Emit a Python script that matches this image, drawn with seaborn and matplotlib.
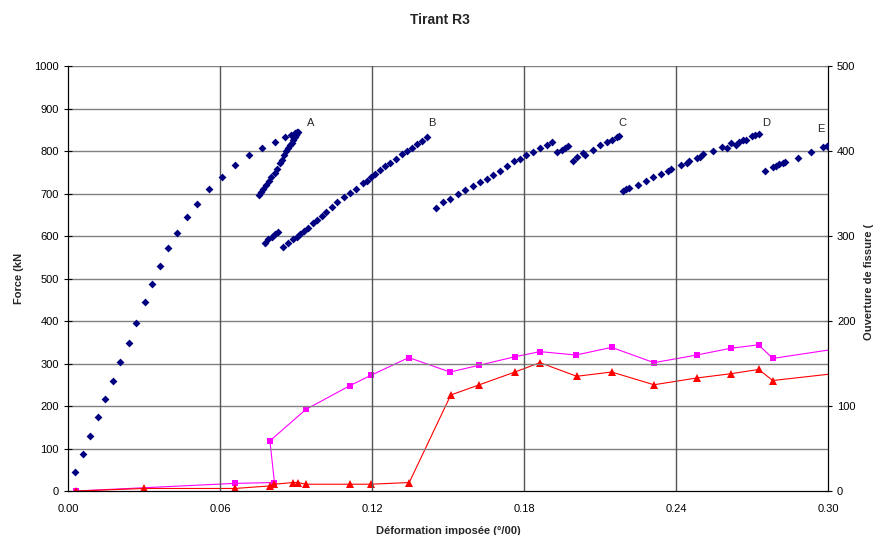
import numpy as np
import pandas as pd
import matplotlib
matplotlib.use('Agg')
import matplotlib.pyplot as plt
import seaborn as sns

# --- Force (kN) vs strain: blue diamonds (loading curve + loops A..E) ---
blue_strain = [
    # initial loading
    0.0028, 0.0058, 0.0088, 0.0118, 0.0147, 0.0176, 0.0207, 0.0240, 0.0270, 0.0303,
    0.0333, 0.0364, 0.0395, 0.0432, 0.0469, 0.0508, 0.0558, 0.0609, 0.0659, 0.0714,
    0.0767, 0.0817, 0.0858, 0.0880, 0.0895, 0.0904,
    # loop A
    0.0753, 0.0762, 0.0771, 0.0782, 0.0792, 0.0803, 0.0816, 0.0826, 0.0837, 0.0846,
    0.0854, 0.0862, 0.0870, 0.0876, 0.0883, 0.0889, 0.0895, 0.0900, 0.0904, 0.0908,
    # loop B
    0.0778, 0.0791, 0.0804, 0.0817, 0.0830,
    0.0850, 0.0870, 0.0887, 0.0903, 0.0916, 0.0932, 0.0948, 0.0966, 0.0982, 0.1001,
    0.1018, 0.1041, 0.1063, 0.1089, 0.1113, 0.1137, 0.1163, 0.1179, 0.1195, 0.1212,
    0.1232, 0.1251, 0.1271, 0.1295, 0.1317, 0.1337, 0.1357, 0.1376, 0.1396, 0.1416,
    # loop C
    0.1453, 0.1481, 0.1508, 0.1541, 0.1567, 0.1600, 0.1626, 0.1653, 0.1679, 0.1705,
    0.1734, 0.1760, 0.1784, 0.1808, 0.1837, 0.1863, 0.1889, 0.1909,
    0.1929, 0.1949, 0.1962, 0.1975,
    0.1995, 0.2008, 0.2034, 0.2041, 0.2071, 0.2100, 0.2126, 0.2146, 0.2166, 0.2176,
    # loop D
    0.2189, 0.2203, 0.2216, 0.2251, 0.2282, 0.2310, 0.2340, 0.2370, 0.2379, 0.2418,
    0.2445, 0.2453, 0.2484, 0.2495, 0.2508, 0.2547, 0.2580, 0.2602, 0.2616, 0.2637,
    0.2650, 0.2663, 0.2676, 0.2699, 0.2712, 0.2729,
    # loop E
    0.2751, 0.2782, 0.2795, 0.2808, 0.2821, 0.2832, 0.2883, 0.2933, 0.2979, 0.2995,
]
blue_force = [
    44, 86, 129, 174, 216, 259, 303, 349, 396, 444,
    488, 529, 572, 608, 644, 676, 710, 740, 766, 791,
    808, 822, 834, 838, 842, 845,
    697, 704, 711, 719, 730, 740, 749, 758, 771, 780,
    790, 799, 807, 813, 820, 826, 832, 838, 842, 845,
    584, 592, 598, 604, 610,
    575, 583, 592, 598, 605, 612, 620, 630, 638, 647,
    657, 669, 681, 691, 702, 711, 724, 730, 738, 745,
    755, 765, 772, 782, 792, 801, 808, 816, 824, 832,
    667, 680, 688, 699, 708, 718, 727, 735, 744, 754,
    765, 776, 782, 790, 798, 807, 815, 822,
    797, 802, 806, 812,
    777, 785, 795, 791, 802, 813, 821, 826, 832, 835,
    706, 710, 713, 721, 730, 738, 746, 754, 757, 768,
    772, 776, 783, 787, 793, 801, 810, 806, 818, 815,
    822, 827, 826, 835, 838, 841,
    754, 762, 765, 769, 771, 774, 784, 798, 809, 812,
]

# --- crack opening (right axis) ---
mag_strain = [0.003, 0.0659, 0.0815, 0.0797, 0.0939, 0.1113, 0.1195, 0.1345, 0.1508, 0.1624,
              0.1764, 0.1863, 0.2005, 0.2146, 0.2313, 0.2482, 0.2617, 0.2726, 0.2782, 0.305]
mag_open = [0, 9, 10, 59, 96, 124, 136, 157, 140, 148,
            158, 164, 160, 169, 151, 160, 168, 172, 156, 168]

red_strain = [0.003, 0.0301, 0.0659, 0.0797, 0.0813, 0.0889, 0.0907, 0.0939, 0.1113, 0.1195,
              0.1347, 0.1511, 0.1624, 0.1764, 0.1863, 0.2008, 0.2146, 0.2313, 0.2482, 0.2617,
              0.2726, 0.2782, 0.305]
red_open = [0, 3, 3, 6, 8, 10, 10, 8, 8, 8,
            10, 113, 125, 140, 151, 135, 140, 125, 133, 138,
            143, 130, 139]

loop_labels = ['A', 'B', 'C', 'D', 'E']
label_strain = [0.0959, 0.1437, 0.2187, 0.2755, 0.2972]
label_force = [854, 854, 854, 854, 840]

sns.set_style('white')
plt.rcParams['font.family'] = ['Liberation Sans', 'DejaVu Sans']

fig, ax = plt.subplots(figsize=(8.75, 5.35), dpi=100)
fig.subplots_adjust(left=0.0777, right=0.9463, top=0.8766, bottom=0.0822)
ax2 = ax.twinx()

df_blue = pd.DataFrame({'strain': blue_strain, 'force': blue_force})
df_mag = pd.DataFrame({'strain': mag_strain, 'open': mag_open})
df_red = pd.DataFrame({'strain': red_strain, 'open': red_open})

sns.lineplot(data=df_mag, x='strain', y='open', sort=False, estimator=None, ax=ax2,
             color='#FF00FF', lw=0.8, marker='s', markersize=4, markeredgewidth=0)
sns.lineplot(data=df_red, x='strain', y='open', sort=False, estimator=None, ax=ax2,
             color='#FF0000', lw=0.8, marker='^', markersize=6, markeredgewidth=0)
sns.scatterplot(data=df_blue, x='strain', y='force', ax=ax, color='#000080',
                marker='D', s=16, linewidth=0, zorder=5)

for lab, sx, fy in zip(loop_labels, label_strain, label_force):
    ax.text(sx, fy, lab, fontsize=8, ha='center', va='bottom')

ax.set_xlim(0, 0.30)
ax.set_ylim(0, 1000)
ax2.set_ylim(0, 500)
ax.set_xticks(np.arange(0, 0.301, 0.06))
ax.set_xticklabels(['0.00', '0.06', '0.12', '0.18', '0.24', '0.30'])
ax.set_yticks(np.arange(0, 1001, 100))
ax2.set_yticks(np.arange(0, 501, 100))

ax.grid(False)
ax2.grid(False)
for v in np.arange(100, 1001, 100):
    ax.axhline(v, color='#808080', lw=1, zorder=0)
for v in np.arange(0.06, 0.299, 0.06):
    ax.axvline(v, color='#555555', lw=1, zorder=0)
ax.set_zorder(ax2.get_zorder() + 1)
ax.patch.set_visible(False)

for a in (ax, ax2):
    a.tick_params(direction='inout', length=6, width=0.8, labelsize=8, colors='#000000')
    for sp in a.spines.values():
        sp.set_color('#000000')
        sp.set_linewidth(0.8)
    a.spines['top'].set_visible(False)
ax.tick_params(axis='x', pad=6)

ax.set_xlabel('Déformation imposée (°/00)', fontsize=8, fontweight='bold', labelpad=9)
ax.set_ylabel('')
ax2.set_ylabel('')
fig.text(0.022, 0.48, 'Force (kN', rotation=90, fontsize=8, fontweight='bold',
         ha='center', va='center')
fig.text(0.993, 0.473, 'Ouverture de fissure (', rotation=90, fontsize=8, fontweight='bold',
         ha='center', va='center')
fig.text(0.503, 0.962, 'Tirant R3', fontsize=10, fontweight='bold', ha='center', va='center')

plt.savefig('out.png', dpi=100)
